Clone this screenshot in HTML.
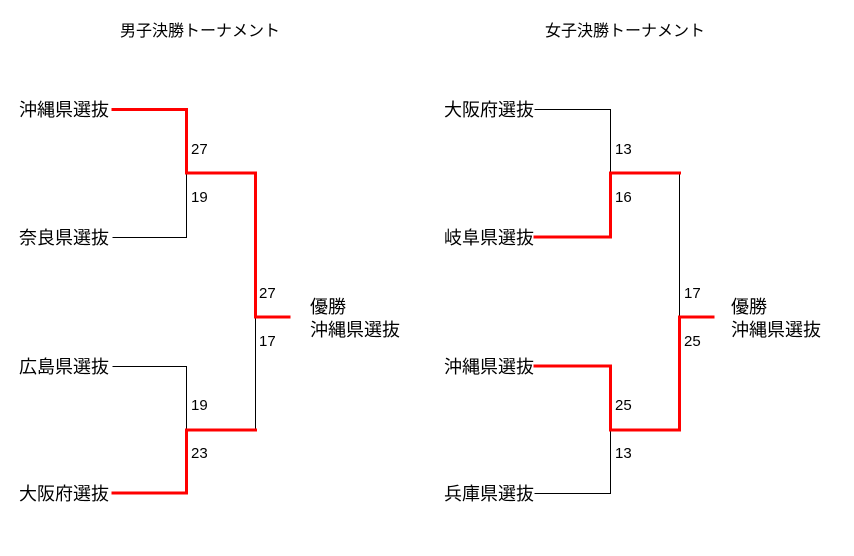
<!DOCTYPE html>
<html><head><meta charset="utf-8"><style>
body{margin:0;background:#fff}
text{font-family:"Liberation Sans","Noto Sans CJK JP",sans-serif;fill:#000}
.t{font-size:18px}
.n{font-size:15px}
</style></head><body>
<svg width="854" height="551" xmlns="http://www.w3.org/2000/svg">
<g fill="none" stroke-linecap="square">
<path d="M113 237.5H186.5V173" stroke="#000" stroke-width="1"/>
<path d="M113 366.5H186.5V430" stroke="#000" stroke-width="1"/>
<path d="M255.5 430V317" stroke="#000" stroke-width="1"/>
<path d="M113 109.5H186.5V173H255.5V317H289" stroke="#f00" stroke-width="3"/>
<path d="M113 493H186.5V430H255.5" stroke="#f00" stroke-width="3"/>
<path d="M535 109.5H610.5V173" stroke="#000" stroke-width="1"/>
<path d="M535 493.5H610.5V430" stroke="#000" stroke-width="1"/>
<path d="M679.5 173V317" stroke="#000" stroke-width="1"/>
<path d="M535 237H610.5V173H679.5" stroke="#f00" stroke-width="3"/>
<path d="M535 366H610.5V430H679.5V317H713" stroke="#f00" stroke-width="3"/>
</g>
<text x="200" y="36" text-anchor="middle" style="font-size:16px">男子決勝トーナメント</text>
<text x="625" y="36" text-anchor="middle" style="font-size:16px">女子決勝トーナメント</text>
<text class="t" x="19" y="116">沖縄県選抜</text>
<text class="t" x="19" y="244">奈良県選抜</text>
<text class="t" x="19" y="373">広島県選抜</text>
<text class="t" x="19" y="500">大阪府選抜</text>
<text class="t" x="310" y="313">優勝</text>
<text class="t" x="310" y="336">沖縄県選抜</text>
<text class="n" x="191" y="154">27</text>
<text class="n" x="191" y="202">19</text>
<text class="n" x="259" y="298">27</text>
<text class="n" x="259" y="346">17</text>
<text class="n" x="191" y="410">19</text>
<text class="n" x="191" y="458">23</text>
<text class="t" x="444" y="116">大阪府選抜</text>
<text class="t" x="444" y="244">岐阜県選抜</text>
<text class="t" x="444" y="373">沖縄県選抜</text>
<text class="t" x="444" y="500">兵庫県選抜</text>
<text class="t" x="731" y="313">優勝</text>
<text class="t" x="731" y="336">沖縄県選抜</text>
<text class="n" x="615" y="154">13</text>
<text class="n" x="615" y="202">16</text>
<text class="n" x="684" y="298">17</text>
<text class="n" x="684" y="346">25</text>
<text class="n" x="615" y="410">25</text>
<text class="n" x="615" y="458">13</text>
</svg>
</body></html>
